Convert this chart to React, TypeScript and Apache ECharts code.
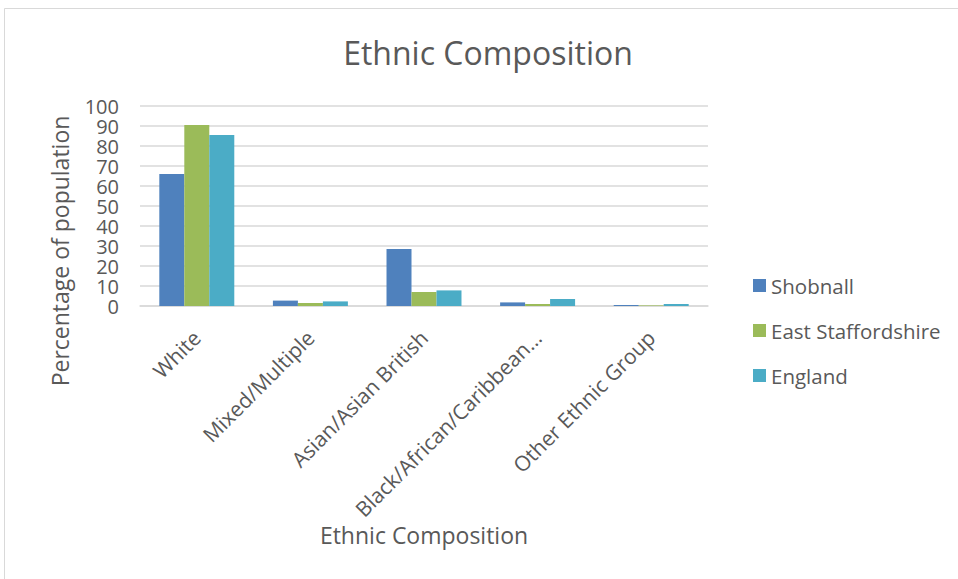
import React, { useEffect, useRef } from "react";
import * as echarts from "echarts";

const categories = [
  "White",
  "Mixed/Multiple",
  "Asian/Asian British",
  "Black/African/Caribbean…",
  "Other Ethnic Group",
];
const seriesNames = ["Shobnall", "East Staffordshire", "England"];
const shobnall = [66, 2.7, 28.5, 1.8, 0.5];
const eastStaffordshire = [90.5, 1.5, 7, 1, 0.3];
const england = [85.5, 2.3, 7.8, 3.5, 1.0];
const colors = ["#4f81bd", "#9bbb59", "#4bacc6"];
const yTicks = { min: 0, max: 100, interval: 10 };

const FONT = "'Open Sans', sans-serif";
const TXT = "#595959";

export default function App() {
  const ref = useRef<HTMLDivElement>(null);
  useEffect(() => {
    if (!ref.current) return;
    const chart = echarts.init(ref.current, undefined, { renderer: "svg" });
    const values = [shobnall, eastStaffordshire, england];
    chart.setOption({
      animation: false,
      backgroundColor: "#ffffff",
      textStyle: { fontFamily: FONT, color: TXT },
      graphic: [
        {
          type: "rect",
          shape: { x: 4.5, y: 8.5, width: 1000, height: 1000 },
          style: { fill: "none", stroke: "#d9d9d9", lineWidth: 1 },
          silent: true,
        },
        {
          type: "text",
          x: 488,
          y: 52,
          style: {
            text: "Ethnic Composition",
            fontSize: 32,
            fontFamily: FONT,
            fill: TXT,
            align: "center",
            verticalAlign: "middle",
          },
        },
        {
          type: "text",
          x: 60,
          y: 251,
          rotation: Math.PI / 2,
          style: {
            text: "Percentage of population",
            fontSize: 23,
            fontFamily: FONT,
            fill: TXT,
            align: "center",
            verticalAlign: "middle",
          },
        },
      ],
      legend: {
        orient: "vertical",
        left: 748,
        top: 270,
        itemWidth: 13,
        itemHeight: 13,
        itemGap: 24,
        icon: "rect",
        data: seriesNames,
        textStyle: { fontSize: 20.5, color: TXT, fontFamily: FONT },
      },
      grid: { left: 140, right: 250, top: 106, bottom: 273, containLabel: false },
      xAxis: {
        type: "category",
        data: categories,
        name: "Ethnic Composition",
        nameLocation: "middle",
        nameGap: 217,
        nameTextStyle: { fontSize: 23, color: TXT, fontFamily: FONT, verticalAlign: "top" },
        axisLine: { lineStyle: { color: "#d9d9d9", width: 1.5 } },
        axisTick: { show: false },
        axisLabel: {
          rotate: 45,
          interval: 0,
          fontSize: 21,
          color: TXT,
          fontFamily: FONT,
          margin: 28,
        },
      },
      yAxis: {
        type: "value",
        min: yTicks.min,
        max: yTicks.max,
        interval: yTicks.interval,
        axisLine: { show: false },
        axisTick: { show: false },
        axisLabel: {
          fontSize: 20,
          lineHeight: 18,
          color: TXT,
          fontFamily: FONT,
          margin: 21,
          showMinLabel: true,
          showMaxLabel: true,
          hideOverlap: false,
        },
        splitLine: { lineStyle: { color: "#d9d9d9", width: 1.5 } },
      },
      series: seriesNames.map((name, i) => ({
        name,
        type: "bar",
        data: values[i],
        barGap: "0%",
        barCategoryGap: "34%",
        itemStyle: { color: colors[i] },
      })),
    });
    return () => chart.dispose();
  }, []);
  return (
    <div
      ref={ref}
      style={{ position: "fixed", left: 0, top: 0, width: 958, height: 579 }}
    />
  );
}
